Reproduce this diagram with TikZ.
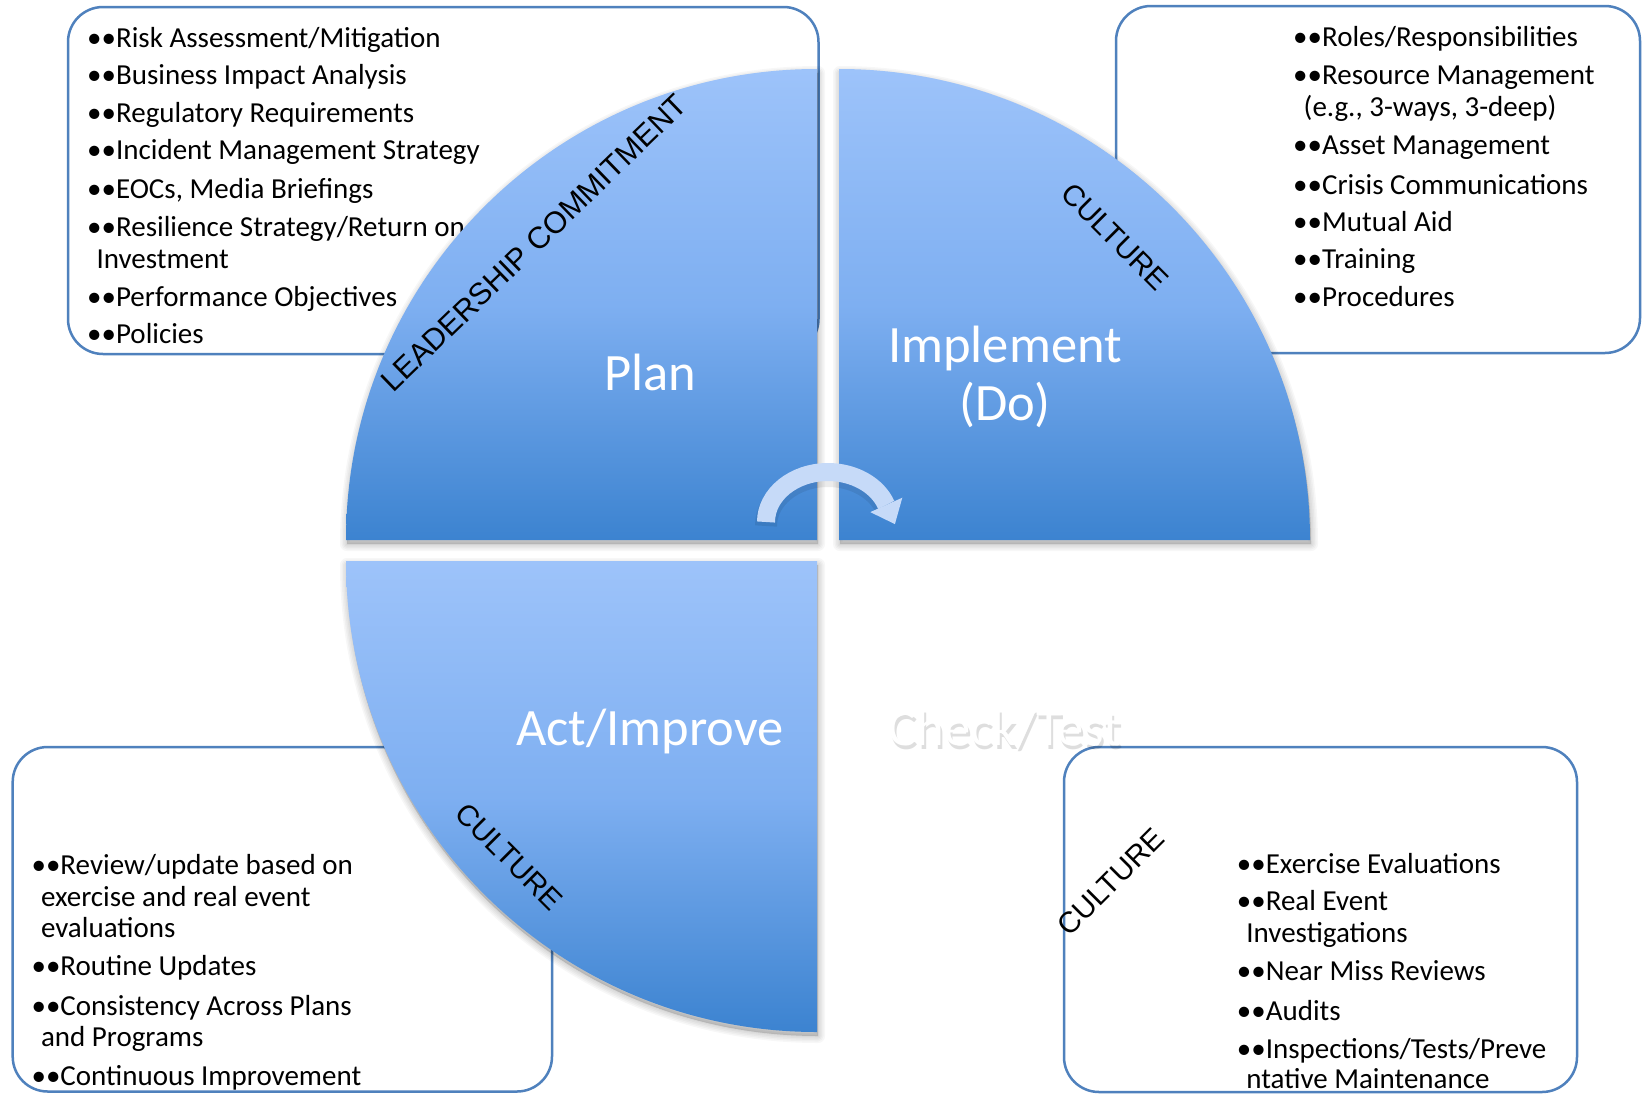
\documentclass[tikz,border=0pt]{standalone}
\usepackage{fontspec}
\setmainfont{Carlito}
\newfontfamily\capsfont{Liberation Sans}
\definecolor{pieTop}{RGB}{157,195,250}
\definecolor{pieMid}{RGB}{126,175,241}
\definecolor{pieBot}{RGB}{60,131,208}
\definecolor{boxLine}{RGB}{79,129,189}
\definecolor{arrowFill}{RGB}{198,218,248}
\newcommand\itemsize{\fontsize{29}{34}\selectfont}
\newcommand\bigsize{\fontsize{52.5}{58}\selectfont}
\newcommand\culturesize{\capsfont\fontsize{29.5}{31}\selectfont}
\newcommand\planpath{(817,540) -- (346,540) arc[start angle=180, end angle=270, radius=471] -- cycle}
\newcommand\implpath{(839,540) -- (839,69) arc[start angle=270, end angle=360, radius=471] -- cycle}
\newcommand\actpath{(817,561) -- (346,561) arc[start angle=180, end angle=90, radius=471] -- cycle}
\begin{document}
\begin{tikzpicture}[x=1pt,y=-1pt,
  infobox/.style={draw=boxLine, line width=2.5pt, rounded corners=35pt, inner sep=0pt},
  txt/.style={anchor=base west, inner sep=0pt, font=\itemsize, text=black},
  quad/.style={top color=pieTop, bottom color=pieBot, middle color=pieMid},
  biglabel/.style={anchor=base, inner sep=0pt, font=\bigsize, text=white},
  slant/.style={inner sep=0pt, text=black},
  shadowlayer/.style={black, opacity=0.03, line join=round},
]
\fill[white] (0,0) rectangle (1642,1093);
\useasboundingbox (0,0) rectangle (1642,1093);

% boxes
\node[infobox, minimum width=750.5pt, minimum height=347pt] (boxTL) at (443.25,180.5) {};
\node[infobox, minimum width=524pt, minimum height=347pt] (boxTR) at (1378,179.5) {};
\node[infobox, minimum width=539.3pt, minimum height=344.5pt] (boxBL) at (282.35,919.25) {};
\node[infobox, minimum width=513pt, minimum height=345pt] (boxBR) at (1320.5,919.5) {};

% top-left text
\node[txt] (tl1) at (87,47) {••Risk Assessment/Mitigation};
\node[txt] (tl2) at (87,84.5) {••Business Impact Analysis};
\node[txt] (tl3) at (87,122) {••Regulatory Requirements};
\node[txt] (tl4) at (87,159) {••Incident Management Strategy};
\node[txt] (tl5) at (87,198.5) {••EOCs, Media Briefings};
\node[txt] (tl6) at (87,236) {••Resilience Strategy/Return on};
\node[txt] (tl7) at (96.3,268) {Investment};
\node[txt] (tl8) at (87,306) {••Performance Objectives};
\node[txt] (tl9) at (87,343) {••Policies};

% top-right text
\node[txt] (tr1) at (1293,46.5) {••Roles/Responsibilities};
\node[txt] (tr2) at (1293,84) {••Resource Management};
\node[txt] (tr3) at (1303.5,116.5) {(e.g., 3-ways, 3-deep)};
\node[txt] (tr4) at (1293,154.5) {••Asset Management};
\node[txt] (tr5) at (1293,194) {••Crisis Communications};
\node[txt] (tr6) at (1293,231) {••Mutual Aid};
\node[txt] (tr7) at (1293,268) {••Training};
\node[txt] (tr8) at (1293,306) {••Procedures};

% bottom-left text
\node[txt] (bl1) at (31.4,874) {••Review/update based on};
\node[txt] (bl2) at (40.8,906) {exercise and real event};
\node[txt] (bl3) at (40.8,937.5) {evaluations};
\node[txt] (bl4) at (31.4,975) {••Routine Updates};
\node[txt] (bl5) at (31.4,1015.5) {••Consistency Across Plans};
\node[txt] (bl6) at (40.8,1046) {and Programs};
\node[txt] (bl7) at (31.4,1085) {••Continuous Improvement};

% bottom-right text
\node[txt] (br1) at (1236.7,873.5) {••Exercise Evaluations};
\node[txt] (br2) at (1236.7,910.5) {••Real Event};
\node[txt] (br3) at (1246.2,942.5) {Investigations};
\node[txt] (br4) at (1236.7,980) {••Near Miss Reviews};
\node[txt] (br5) at (1236.7,1020) {••Audits};
\node[txt] (br6) at (1236.7,1058) {••Inspections/Tests/Preve};
\node[txt] (br7) at (1246.2,1088) {ntative Maintenance};

% soft shadows of the quadrants
\begin{scope}[xshift=1pt, yshift=-4pt]
  \foreach \w in {2,5,8,11,14} {
    \filldraw[shadowlayer, line width=\w pt] \planpath;
    \filldraw[shadowlayer, line width=\w pt] \implpath;
    \filldraw[shadowlayer, line width=\w pt] \actpath;
  }
\end{scope}

% quadrants
\shade[quad] \planpath;
\shade[quad] \implpath;
\shade[quad] \actpath;

% quadrant labels
\node[biglabel] (plan) at (650,390) {Plan};
\node[biglabel] (impl) at (1005,362) {Implement};
\node[biglabel] (impldo) at (1005,420) {(Do)};
\node[biglabel] (act) at (650,745.5) {Act/Improve};
\node[biglabel, text=black, opacity=0.13] (checkshadow) at (1007,749) {Check/Test};
\node[biglabel] (check) at (1005,745) {Check/Test};

% slanted labels
\node[slant, rotate=44, font=\capsfont\fontsize{30.5}{32}\selectfont] (lead) at (534,243) {LEADERSHIP COMMITMENT};
\node[slant, rotate=-45, font=\culturesize] (cultI) at (1115,237) {CULTURE};
\node[slant, rotate=-45, font=\culturesize] (cultA) at (509.5,856.5) {CULTURE};
\node[slant, rotate=45, font=\culturesize] (cultC) at (1110.5,882) {CULTURE};

% central cycle arrow
\draw[black, opacity=0.08, line width=22pt] (766,526) arc[start angle=180, end angle=340, x radius=62, y radius=50];
\draw[arrowFill, line width=18pt] (766,522) arc[start angle=180, end angle=340, x radius=62, y radius=50] coordinate (arcEnd);
\fill[arrowFill] (902.3,497.7) -- (894.9,524.1) -- (870.3,512.1) -- cycle;
\end{tikzpicture}
\end{document}
